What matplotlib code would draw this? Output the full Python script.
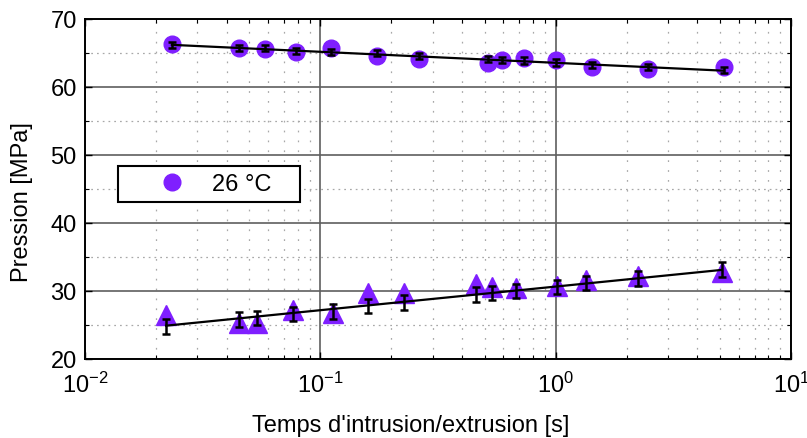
import matplotlib
matplotlib.use("Agg")
import matplotlib.pyplot as plt
from matplotlib.ticker import LogLocator, NullFormatter, MultipleLocator

plt.rcParams['font.family'] = ['Liberation Sans', 'DejaVu Sans']
plt.rcParams['mathtext.fontset'] = 'custom'
plt.rcParams['mathtext.rm'] = 'Liberation Sans'
plt.rcParams['mathtext.it'] = 'Liberation Sans'
plt.rcParams['mathtext.bf'] = 'Liberation Sans'

# ---- data ----
t_up = [0.0234, 0.0451, 0.0581, 0.0787, 0.111, 0.174, 0.262, 0.514, 0.590, 0.731, 1.00, 1.42, 2.46, 5.17]
p_up = [66.3, 65.8, 65.6, 65.1, 65.8, 64.5, 64.1, 63.6, 64.0, 64.2, 63.9, 63.0, 62.6, 62.9]
m_up = [66.2, 65.8, 65.7, 65.3, 65.2, 65.0, 64.5, 64.1, 64.0, 63.9, 63.6, 63.3, 62.9, 62.5]
e_up = [0.45, 0.45, 0.45, 0.45, 0.45, 0.45, 0.45, 0.45, 0.45, 0.45, 0.45, 0.45, 0.45, 0.45]

t_lo = [0.0221, 0.0451, 0.0537, 0.0764, 0.113, 0.159, 0.226, 0.458, 0.535, 0.676, 1.01, 1.34, 2.23, 5.07]
p_lo = [26.4, 25.3, 25.3, 27.2, 26.7, 29.7, 29.7, 31.1, 30.6, 30.5, 30.8, 31.6, 32.2, 32.8]
m_lo = [24.8, 25.8, 26.0, 26.6, 27.0, 27.8, 28.3, 29.5, 29.7, 30.0, 30.6, 31.2, 31.9, 33.1]
e_lo = [1.1, 1.05, 1.05, 1.0, 1.1, 1.05, 1.05, 1.1, 1.0, 1.0, 1.05, 1.0, 1.1, 1.1]

fit_up_t = [0.0234, 5.17]
fit_up_p = [66.2, 62.4]
fit_lo_t = [0.0221, 5.07]
fit_lo_p = [24.9, 33.1]

legend_label = '26 °C'
xlabel = "Temps d'intrusion/extrusion [s]"
ylabel = 'Pression [MPa]'

purple = '#7f1fff'

fig = plt.figure(figsize=(8.07, 4.39), dpi=100)
ax = fig.add_axes([85/807, 1-360/439, 706/807, 340/439])

ax.set_xscale('log')
ax.set_xlim(1e-2, 1e1)
ax.set_ylim(20, 70)

# grid
ax.yaxis.set_major_locator(MultipleLocator(10))
ax.yaxis.set_minor_locator(MultipleLocator(5))
ax.xaxis.set_major_locator(LogLocator(base=10, numticks=10))
ax.xaxis.set_minor_locator(LogLocator(base=10, subs=range(2, 10), numticks=20))
ax.xaxis.set_minor_formatter(NullFormatter())

ax.grid(which='major', axis='both', color='#5f5f5f', linestyle='-', linewidth=1.2, zorder=0)
ax.grid(which='minor', axis='x', color='#a8a8a8', linestyle=(0, (1.4, 6.5)), linewidth=0.9, zorder=0)
ax.grid(which='minor', axis='y', color='#a8a8a8', linestyle=(0, (1.4, 3.2)), linewidth=0.9, zorder=0)
ax.set_axisbelow(True)

# markers
ax.plot(t_up, p_up, linestyle='none', marker='o', markersize=12, color=purple,
        markeredgecolor=purple, zorder=3, label=legend_label)
ax.plot(t_lo, p_lo, linestyle='none', marker='^', markersize=14.5, color=purple,
        markeredgecolor=purple, zorder=3)

# fits
ax.plot(fit_up_t, fit_up_p, color='black', linewidth=1.6, zorder=4)
ax.plot(fit_lo_t, fit_lo_p, color='black', linewidth=1.6, zorder=4)

# error bars
ax.errorbar(t_up, m_up, yerr=e_up, fmt='none', ecolor='black', elinewidth=1.8,
            capsize=3, capthick=1.8, zorder=5)
ax.errorbar(t_lo, m_lo, yerr=e_lo, fmt='none', ecolor='black', elinewidth=1.8,
            capsize=3, capthick=1.8, zorder=5)

# ticks
ax.tick_params(which='both', direction='in', top=True, right=True, colors='black')
ax.tick_params(which='major', length=5, width=1.0, labelsize=17)
ax.tick_params(which='minor', length=3, width=0.8)
ax.tick_params(axis='x', which='major', pad=9)
ax.tick_params(axis='y', which='major', pad=6)
for s in ax.spines.values():
    s.set_linewidth(1.4)
    s.set_color('black')

ax.set_xlabel(xlabel, fontsize=17)
ax.set_ylabel(ylabel, fontsize=17)
ax.xaxis.set_label_coords((411-85)/706, (360-415)/340)
ax.yaxis.set_label_coords((33-85)/706, (360-202)/340)

leg = ax.legend(loc='lower left', bbox_to_anchor=((118-85)/706, (360-203)/340, 182/706, 43/340),
                mode='expand', borderaxespad=0, fontsize=17, frameon=True, fancybox=False,
                framealpha=1, edgecolor='black', handlelength=4.0, handletextpad=-0.3,
                borderpad=0.3, numpoints=1)
leg.get_frame().set_linewidth(1.5)

fig.savefig('out.png', dpi=100)
